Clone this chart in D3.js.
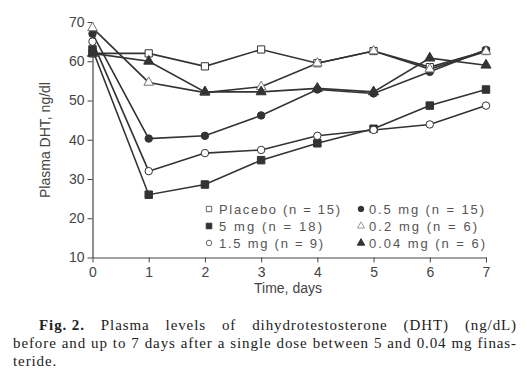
<!DOCTYPE html>
<html>
<head>
<meta charset="utf-8">
<script src="https://cdn.jsdelivr.net/npm/d3@7"></script>
<style>
  body { margin: 0; background: #fff; }
  svg { display: block; }
</style>
</head>
<body>
<div id="chart"></div>
<script>
var days = [0, 1, 2, 3, 4, 5, 6, 7];
var yTicks = [10, 20, 30, 40, 50, 60, 70];

var placebo = [62, 62, 58.7, 63, 59.5, 62.6, 58.5, 62.6];
var mg5 = [63, 26, 28.6, 34.8, 39.1, 42.8, 48.7, 52.8];
var mg15 = [65, 32, 36.6, 37.4, 41, 42.5, 43.9, 48.7];
var mg05 = [67, 40.3, 41, 46.2, 52.8, 51.8, 57.3, 62.9];
var mg02 = [68.5, 54.6, 52, 53.5, 59.5, 62.6, 58, 62.5];
var mg004 = [62, 60, 52.2, 52.2, 53.1, 52.2, 60.8, 59];

var seriesNames = ['Placebo (n = 15)', '5 mg (n = 18)', '1.5 mg (n = 9)',
  '0.5 mg (n = 15)', '0.2 mg (n = 6)', '0.04 mg (n = 6)'];

var captionLines = [
  ['Fig. 2.', 'Plasma', 'levels', 'of', 'dihydrotestosterone', '(DHT)', '(ng/dL)'],
  ['before', 'and', 'up', 'to', '7', 'days', 'after', 'a', 'single', 'dose', 'between', '5', 'and', '0.04', 'mg', 'finas-'],
  ['teride.']
];

var ink = '#333';
var width = 527;
var height = 387;

var svg = d3.select('#chart').append('svg')
  .attr('width', width)
  .attr('height', height)
  .style('font-family', '"Liberation Sans", Arial, sans-serif');

svg.append('rect')
  .attr('width', width)
  .attr('height', height)
  .attr('fill', '#fff');

var x = d3.scaleLinear().domain([0, 7]).range([92.5, 486]);
var y = d3.scaleLinear().domain([10, 70]).range([257.5, 22]);

// marker styles, one per series
var styles = [
  {data: placebo, symbol: d3.symbolSquare, size: 52, fill: '#fff', stroke: ink},
  {data: mg5, symbol: d3.symbolSquare, size: 56, fill: ink, stroke: ink},
  {data: mg15, symbol: d3.symbolCircle, size: 44, fill: '#fff', stroke: ink},
  {data: mg05, symbol: d3.symbolCircle, size: 44, fill: ink, stroke: ink},
  {data: mg02, symbol: d3.symbolTriangle, size: 40, fill: '#fff', stroke: '#777'},
  {data: mg004, symbol: d3.symbolTriangle, size: 44, fill: ink, stroke: ink}
];

// axes
var yAxis = svg.append('g')
  .attr('transform', 'translate(' + x(0) + ',0)')
  .call(d3.axisLeft(y).tickValues(yTicks).tickSize(5).tickPadding(3).tickSizeOuter(0));

var xAxis = svg.append('g')
  .attr('transform', 'translate(0,' + y(10) + ')')
  .call(d3.axisBottom(x).tickValues(days).tickFormat(d3.format('d'))
    .tickSize(5).tickPadding(5).tickSizeOuter(0));

[yAxis, xAxis].forEach(function (g) {
  g.select('.domain').attr('stroke', '#444').attr('stroke-width', 1.2);
  g.selectAll('.tick line').attr('stroke', '#444');
  g.selectAll('.tick text')
    .attr('fill', '#444')
    .style('font-size', '14px')
    .style('font-family', '"Liberation Sans", Arial, sans-serif');
});

svg.append('text')
  .attr('x', 288)
  .attr('y', 293)
  .attr('text-anchor', 'middle')
  .attr('fill', '#444')
  .style('font-size', '14px')
  .text('Time, days');

svg.append('text')
  .attr('transform', 'translate(50,140) rotate(-90)')
  .attr('text-anchor', 'middle')
  .attr('fill', '#444')
  .style('font-size', '14px')
  .text('Plasma DHT, ng/dl');

// lines then markers
var line = d3.line()
  .x(function (d, i) { return x(days[i]); })
  .y(function (d) { return y(d); });

svg.selectAll('.series-line')
  .data(styles)
  .enter()
  .append('path')
  .attr('class', 'series-line')
  .attr('fill', 'none')
  .attr('stroke', ink)
  .attr('stroke-width', 1.6)
  .attr('d', function (d) { return line(d.data); });

styles.forEach(function (s) {
  svg.selectAll(null)
    .data(s.data)
    .enter()
    .append('path')
    .attr('transform', function (d, i) {
      return 'translate(' + x(days[i]) + ',' + y(d) + ')';
    })
    .attr('d', d3.symbol().type(s.symbol).size(s.size))
    .attr('fill', s.fill)
    .attr('stroke', s.stroke)
    .attr('stroke-width', 1);
});

// legend, two columns of three
var legendCols = [{mx: 209, tx: 219}, {mx: 361, tx: 369}];
var legendRows = [209, 226, 243];
var legendLen = [121, 103, 104, 115, 108, 116];

styles.forEach(function (s, i) {
  var col = legendCols[Math.floor(i / 3)];
  var rowY = legendRows[i % 3];
  svg.append('path')
    .attr('transform', 'translate(' + col.mx + ',' + rowY + ')')
    .attr('d', d3.symbol().type(s.symbol).size(s.size * 0.55))
    .attr('fill', s.fill)
    .attr('stroke', i === 4 ? '#999' : (i === 0 || i === 2 ? '#666' : ink))
    .attr('stroke-width', 1);
  svg.append('text')
    .attr('x', col.tx)
    .attr('y', rowY + 5)
    .attr('fill', '#555')
    .attr('textLength', legendLen[i])
    .attr('lengthAdjust', 'spacing')
    .style('font-size', '13px')
    .text(seriesNames[i]);
});

// caption, justified word by word
var captionStarts = [39, 13, 13];
var captionBase = [330, 348, 366];
var captionRight = 517;

captionLines.forEach(function (words, li) {
  var g = svg.append('g');
  var nodes = words.map(function (w, wi) {
    return g.append('text')
      .attr('y', captionBase[li])
      .attr('fill', '#222')
      .style('font-family', '"Liberation Serif", "Times New Roman", serif')
      .style('font-size', '15px')
      .style('letter-spacing', '0.9px')
      .style('font-weight', li === 0 && wi === 0 ? 'bold' : 'normal')
      .text(w);
  });
  var widths = nodes.map(function (n) { return n.node().getComputedTextLength(); });
  var total = d3.sum(widths);
  var gap = 4;
  if (li < captionLines.length - 1) {
    gap = (captionRight - captionStarts[li] - total) / (words.length - 1);
  }
  var cx = captionStarts[li];
  nodes.forEach(function (n, k) {
    n.attr('x', cx);
    cx += widths[k] + gap;
  });
});
</script>
</body>
</html>
